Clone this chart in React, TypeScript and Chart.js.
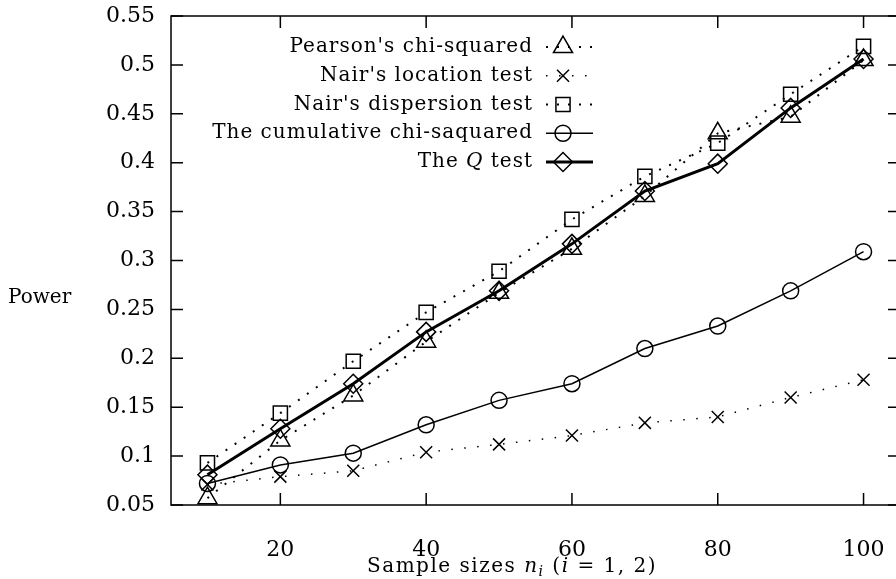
import React, { useEffect, useRef } from 'react';
import { Chart, registerables } from 'chart.js';

Chart.register(...registerables);

// ---- data ----
const sampleSizes = [10, 20, 30, 40, 50, 60, 70, 80, 90, 100];
const pearson = [0.057, 0.116, 0.162, 0.217, 0.267, 0.312, 0.366, 0.430, 0.447, 0.505];
const location = [0.071, 0.079, 0.085, 0.104, 0.112, 0.121, 0.134, 0.140, 0.160, 0.178];
const dispersion = [0.093, 0.144, 0.197, 0.247, 0.289, 0.342, 0.386, 0.420, 0.470, 0.519];
const cumulative = [0.072, 0.091, 0.103, 0.132, 0.157, 0.174, 0.210, 0.233, 0.269, 0.309];
const qTest = [0.081, 0.128, 0.174, 0.227, 0.269, 0.317, 0.371, 0.399, 0.456, 0.506];

const xTickValues = [20, 40, 60, 80, 100];
const xTickLabels = ['20', '40', '60', '80', '100'];
const yTickValues = [0.05, 0.1, 0.15, 0.2, 0.25, 0.3, 0.35, 0.4, 0.45, 0.5, 0.55];
const yTickLabels = ['0.05', '0.1', '0.15', '0.2', '0.25', '0.3', '0.35', '0.4', '0.45', '0.5', '0.55'];

const legendLabels: { t: string; i: boolean }[][] = [
  [{ t: "Pearson's chi-squared", i: false }],
  [{ t: "Nair's location test", i: false }],
  [{ t: "Nair's dispersion test", i: false }],
  [{ t: 'The cumulative chi-saquared', i: false }],
  [{ t: 'The ', i: false }, { t: 'Q', i: true }, { t: ' test', i: false }],
];
const yTitle = 'Power';

const FONT = '"DejaVu Serif", "Liberation Serif", serif';

type Style = { pointStyle: string; radius: number; width: number; dash: number[] };
const styles: Style[] = [
  { pointStyle: 'triangle', radius: 11, width: 2, dash: [2, 9] },
  { pointStyle: 'crossRot', radius: 8.5, width: 1.5, dash: [1.5, 11.5] },
  { pointStyle: 'rect', radius: 10, width: 2, dash: [2, 9] },
  { pointStyle: 'circle', radius: 8, width: 1.5, dash: [] },
  { pointStyle: 'rectRot', radius: 9.5, width: 3, dash: [] },
];
const seriesValues = [pearson, location, dispersion, cumulative, qTest];

function drawMarker(ctx: CanvasRenderingContext2D, style: string, x: number, y: number, r: number) {
  ctx.beginPath();
  if (style === 'triangle') {
    ctx.moveTo(x, y - r);
    ctx.lineTo(x + r * Math.sin(Math.PI * 2 / 3), y - r * Math.cos(Math.PI * 2 / 3));
    ctx.lineTo(x + r * Math.sin(Math.PI * 4 / 3), y - r * Math.cos(Math.PI * 4 / 3));
    ctx.closePath();
  } else if (style === 'crossRot') {
    const o = r * Math.SQRT1_2;
    ctx.moveTo(x - o, y - o); ctx.lineTo(x + o, y + o);
    ctx.moveTo(x - o, y + o); ctx.lineTo(x + o, y - o);
  } else if (style === 'rect') {
    const s = r * Math.SQRT1_2;
    ctx.rect(x - s, y - s, 2 * s, 2 * s);
  } else if (style === 'circle') {
    ctx.arc(x, y, r, 0, Math.PI * 2);
  } else if (style === 'rectRot') {
    ctx.moveTo(x - r, y); ctx.lineTo(x, y - r); ctx.lineTo(x + r, y); ctx.lineTo(x, y + r);
    ctx.closePath();
  }
  ctx.stroke();
}

function drawSegments(ctx: CanvasRenderingContext2D, segs: { t: string; i: boolean; sub?: boolean }[], x: number, y: number, align: 'right' | 'center' | 'left', size: number) {
  const fontFor = (s: { i: boolean; sub?: boolean }) => `${s.i ? 'italic ' : ''}${s.sub ? Math.round(size * 0.7) : size}px ${FONT}`;
  let total = 0;
  const widths = segs.map((s) => { ctx.font = fontFor(s); const w = ctx.measureText(s.t).width; total += w; return w; });
  let cx = align === 'right' ? x - total : align === 'center' ? x - total / 2 : x;
  segs.forEach((s, k) => {
    ctx.font = fontFor(s);
    ctx.fillText(s.t, cx, s.sub ? y + size * 0.25 : y);
    cx += widths[k];
  });
}

const decorPlugin = {
  id: 'decor',
  afterDraw(chart: any) {
    const { ctx, chartArea: a, scales } = chart;
    ctx.save();
    ctx.strokeStyle = '#000';
    ctx.fillStyle = '#000';
    ctx.lineWidth = 1.5;
    ctx.setLineDash([]);
    ctx.strokeRect(a.left, a.top, a.right - a.left, a.bottom - a.top);
    const tl = 12;
    ctx.beginPath();
    for (const v of xTickValues) {
      const px = scales.x.getPixelForValue(v);
      ctx.moveTo(px, a.bottom); ctx.lineTo(px, a.bottom - tl);
      ctx.moveTo(px, a.top); ctx.lineTo(px, a.top + tl);
    }
    for (const v of yTickValues) {
      const py = scales.y.getPixelForValue(v);
      ctx.moveTo(a.left, py); ctx.lineTo(a.left + tl, py);
      ctx.moveTo(a.right, py); ctx.lineTo(a.right - tl, py);
    }
    ctx.stroke();

    // legend
    ctx.textBaseline = 'middle';
    ctx.textAlign = 'left';
    (ctx as any).letterSpacing = '1px';
    legendLabels.forEach((segs, k) => {
      const y = 47 + k * 28.75;
      drawSegments(ctx, segs, 533, y, 'right', 20);
      const st = styles[k];
      ctx.lineWidth = st.width;
      ctx.setLineDash(st.dash);
      ctx.beginPath();
      ctx.moveTo(546, y); ctx.lineTo(593, y);
      ctx.stroke();
      ctx.setLineDash([]);
      ctx.lineWidth = 1.5;
      drawMarker(ctx, st.pointStyle, 563, y, st.radius);
    });

    // axis titles
    (ctx as any).letterSpacing = '0px';
    drawSegments(ctx, [{ t: yTitle, i: false }], 8, 298, 'left', 20);
    (ctx as any).letterSpacing = '1.5px';
    drawSegments(ctx, [
      { t: 'Sample sizes ', i: false },
      { t: 'n', i: true },
      { t: 'i', i: true, sub: true },
      { t: ' (', i: false },
      { t: 'i', i: true },
      { t: ' = 1, 2)', i: false },
    ], 512, 567, 'center', 20);
    (ctx as any).letterSpacing = '0px';
    ctx.restore();
  },
};

export default function App() {
  const ref = useRef<HTMLCanvasElement | null>(null);
  useEffect(() => {
    if (!ref.current) return;
    const labels = legendLabels.map((segs) => segs.map((s) => s.t).join(''));
    const datasets = seriesValues.map((vals, k) => ({
      label: labels[k],
      data: sampleSizes.map((x, i) => ({ x, y: vals[i] })),
      borderColor: '#000',
      borderWidth: styles[k].width,
      borderDash: styles[k].dash,
      borderCapStyle: 'butt' as const,
      pointStyle: styles[k].pointStyle as any,
      pointRadius: styles[k].radius,
      pointBorderWidth: 1.5,
      pointBorderColor: '#000',
      pointBackgroundColor: 'rgba(0,0,0,0)',
      fill: false,
      tension: 0,
    }));
    const chart = new Chart(ref.current, {
      type: 'line',
      data: { datasets },
      options: {
        animation: false,
        responsive: false,
        devicePixelRatio: 1,
        layout: { autoPadding: false, padding: { top: 16, right: 0, left: 0, bottom: 0 } },
        plugins: { legend: { display: false }, tooltip: { enabled: false } },
        scales: {
          x: {
            type: 'linear',
            min: 5,
            max: 105,
            afterBuildTicks: (s: any) => { s.ticks = xTickValues.map((v) => ({ value: v })); },
            afterFit: (s: any) => { s.height = 74; s.paddingLeft = 0; s.paddingRight = 0; },
            grid: { display: false, drawTicks: false },
            border: { display: false },
            ticks: {
              padding: 32,
              color: '#000',
              font: { family: FONT, size: 22 },
              maxRotation: 0,
              autoSkip: false,
              callback: (_v: any, i: number) => xTickLabels[i],
            },
          },
          y: {
            type: 'linear',
            min: 0.05,
            max: 0.55,
            afterBuildTicks: (s: any) => { s.ticks = yTickValues.map((v) => ({ value: v })); },
            afterFit: (s: any) => { s.width = 171; s.paddingTop = 0; s.paddingBottom = 0; },
            grid: { display: false, drawTicks: false },
            border: { display: false },
            ticks: {
              padding: 16,
              color: '#000',
              font: { family: FONT, size: 22 },
              autoSkip: false,
              callback: (_v: any, i: number) => yTickLabels[i],
            },
          },
        },
      },
      plugins: [decorPlugin],
    });
    return () => chart.destroy();
  }, []);
  return (
    <div style={{ position: 'fixed', left: 0, top: 0, width: 896, height: 579, overflow: 'hidden', background: '#fff' }}>
      <canvas ref={ref} width={900} height={579} style={{ display: 'block', width: 900, height: 579 }} />
    </div>
  );
}
